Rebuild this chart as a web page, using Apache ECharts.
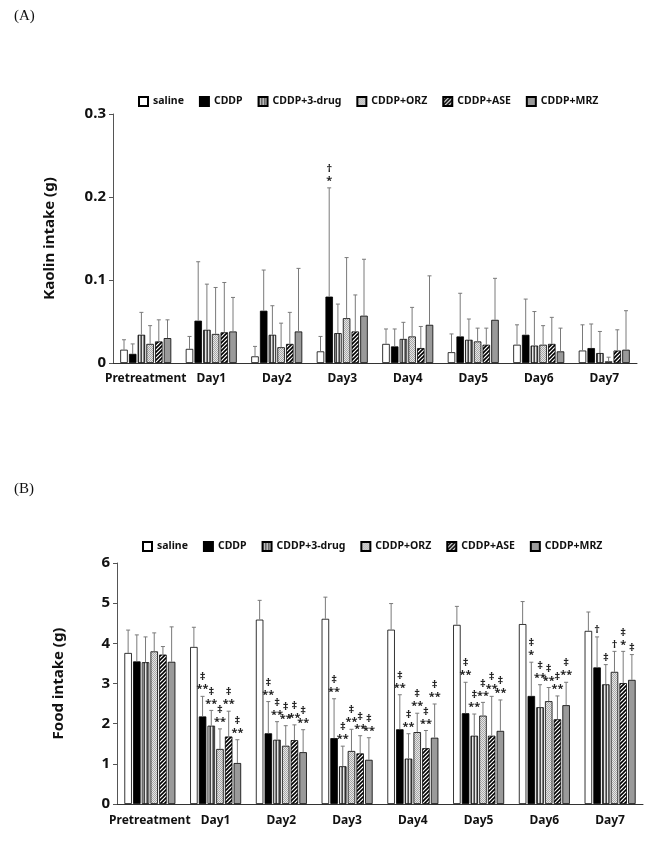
<!DOCTYPE html>
<html>
<head>
<meta charset="utf-8">
<script src="https://cdn.jsdelivr.net/npm/echarts@6.0.0/dist/echarts.min.js"></script>
<style>
html,body{margin:0;padding:0;background:#fff;}
#chart{width:661px;height:850px;}
</style>
</head>
<body>
<div id="chart"></div>
<script>
// ---------- data ----------
const categories = ['Pretreatment','Day1','Day2','Day3','Day4','Day5','Day6','Day7'];
const seriesNames = ['saline','CDDP','CDDP+3-drug','CDDP+ORZ','CDDP+ASE','CDDP+MRZ'];
const yTicksA = [0, 0.1, 0.2, 0.3];
const yTicksB = [0, 1, 2, 3, 4, 5, 6];

// (A) Kaolin intake (g): means
const kaolinSaline = [0.016, 0.017, 0.008, 0.014, 0.023, 0.013, 0.022, 0.015];
const kaolinCDDP   = [0.011, 0.051, 0.063, 0.080, 0.020, 0.032, 0.034, 0.018];
const kaolin3drug  = [0.034, 0.040, 0.034, 0.036, 0.029, 0.028, 0.021, 0.012];
const kaolinORZ    = [0.023, 0.035, 0.019, 0.054, 0.032, 0.026, 0.022, 0.002];
const kaolinASE    = [0.026, 0.037, 0.023, 0.038, 0.018, 0.022, 0.023, 0.015];
const kaolinMRZ    = [0.030, 0.038, 0.038, 0.057, 0.046, 0.052, 0.014, 0.016];
// (A) SD
const kaolinSalineSD = [0.012, 0.015, 0.012, 0.018, 0.018, 0.022, 0.024, 0.031];
const kaolinCDDPSD   = [0.012, 0.071, 0.049, 0.131, 0.021, 0.052, 0.043, 0.029];
const kaolin3drugSD  = [0.027, 0.055, 0.035, 0.035, 0.020, 0.025, 0.041, 0.026];
const kaolinORZSD    = [0.022, 0.056, 0.029, 0.073, 0.035, 0.016, 0.023, 0.005];
const kaolinASESD    = [0.026, 0.060, 0.038, 0.044, 0.026, 0.020, 0.032, 0.025];
const kaolinMRZSD    = [0.022, 0.041, 0.076, 0.068, 0.059, 0.050, 0.028, 0.047];
// (A) significance marks
const kaolinMarksCDDP = ['', '', '', '†\n*', '', '', '', ''];

// (B) Food intake (g): means
const foodSaline = [3.76, 3.91, 4.59, 4.61, 4.34, 4.46, 4.48, 4.31];
const foodCDDP   = [3.55, 2.18, 1.76, 1.64, 1.86, 2.26, 2.69, 3.40];
const food3drug  = [3.53, 1.95, 1.60, 0.94, 1.13, 1.70, 2.41, 2.98];
const foodORZ    = [3.80, 1.37, 1.45, 1.32, 1.79, 2.20, 2.56, 3.29];
const foodASE    = [3.72, 1.68, 1.59, 1.26, 1.39, 1.70, 2.11, 3.01];
const foodMRZ    = [3.54, 1.02, 1.29, 1.10, 1.65, 1.82, 2.46, 3.09];
// (B) SD
const foodSalineSD = [0.57, 0.49, 0.48, 0.54, 0.65, 0.46, 0.56, 0.47];
const foodCDDPSD   = [0.66, 0.50, 0.79, 0.98, 0.86, 0.77, 0.84, 0.76];
const food3drugSD  = [0.63, 0.38, 0.45, 0.50, 0.62, 0.54, 0.56, 0.49];
const foodORZSD    = [0.46, 0.50, 0.50, 0.54, 0.47, 0.33, 0.34, 0.51];
const foodASESD    = [0.20, 0.63, 0.38, 0.44, 0.44, 0.98, 0.58, 0.79];
const foodMRZSD    = [0.87, 0.58, 0.56, 0.55, 0.84, 0.77, 0.57, 0.63];
// (B) significance marks
const foodMarksSaline = ['', '', '', '', '', '', '', ''];
const foodMarksCDDP  = ['', '‡\n**', '‡\n**', '‡\n**', '‡\n**', '‡\n**', '‡\n*', '†'];
const foodMarks3drug = ['', '‡\n**', '‡\n**', '‡\n**', '‡\n**', '‡\n**', '‡\n**', '‡'];
const foodMarksORZ   = ['', '‡\n**', '‡\n**', '‡\n**', '‡\n**', '‡\n**', '‡\n**', '†'];
const foodMarksASE   = ['', '‡\n**', '‡\n**', '‡\n**', '‡\n**', '‡\n**', '‡\n**', '‡\n*'];
const foodMarksMRZ   = ['', '‡\n**', '‡\n**', '‡\n**', '‡\n**', '‡\n**', '‡\n**', '‡'];

// ---------- build ----------
const kaolinMeans = [kaolinSaline, kaolinCDDP, kaolin3drug, kaolinORZ, kaolinASE, kaolinMRZ];
const kaolinSDs = [kaolinSalineSD, kaolinCDDPSD, kaolin3drugSD, kaolinORZSD, kaolinASESD, kaolinMRZSD];
const noMarks = ['', '', '', '', '', '', '', ''];
const kaolinMarks = [noMarks, kaolinMarksCDDP, noMarks, noMarks, noMarks, noMarks];
const foodMeans = [foodSaline, foodCDDP, food3drug, foodORZ, foodASE, foodMRZ];
const foodSDs = [foodSalineSD, foodCDDPSD, food3drugSD, foodORZSD, foodASESD, foodMRZSD];
const foodMarks = [foodMarksSaline, foodMarksCDDP, foodMarks3drug, foodMarksORZ, foodMarksASE, foodMarksMRZ];

const FONT = '"Noto Sans", "DejaVu Sans", sans-serif';
const BAR_W = 7.5;
const BAR_GAP = 0.16;
const PITCH = BAR_W * (1 + BAR_GAP);

function makePattern(w, h, draw) {
  const c = document.createElement('canvas');
  c.width = w; c.height = h;
  const ctx = c.getContext('2d');
  draw(ctx);
  return { image: c, repeat: 'repeat' };
}
const fills = [
  '#ffffff',
  '#000000',
  makePattern(3, 1, ctx => {
    ctx.fillStyle = '#888'; ctx.fillRect(0, 0, 3, 1);
    ctx.fillStyle = '#444'; ctx.fillRect(0, 0, 1, 1);
    ctx.fillStyle = '#e6e6e6'; ctx.fillRect(1, 0, 1, 1);
  }),
  makePattern(2, 2, ctx => {
    ctx.fillStyle = '#e6e6e6'; ctx.fillRect(0, 0, 2, 2);
    ctx.fillStyle = '#a8a8a8'; ctx.fillRect(0, 0, 1, 1); ctx.fillRect(1, 1, 1, 1);
  }),
  makePattern(4, 4, ctx => {
    ctx.fillStyle = '#ffffff'; ctx.fillRect(0, 0, 4, 4);
    ctx.strokeStyle = '#000'; ctx.lineWidth = 1.6;
    ctx.beginPath();
    ctx.moveTo(-1, 5); ctx.lineTo(5, -1);
    ctx.moveTo(-1, 1); ctx.lineTo(1, -1);
    ctx.moveTo(3, 5); ctx.lineTo(5, 3);
    ctx.stroke();
  }),
  '#9a9a9a'
];

function barSeries(means, axisIdx) {
  return means.map((arr, si) => ({
    name: seriesNames[si],
    type: 'bar',
    xAxisIndex: axisIdx, yAxisIndex: axisIdx,
    data: arr,
    barWidth: BAR_W,
    barGap: (BAR_GAP * 100) + '%',
    itemStyle: { color: fills[si], borderColor: '#000', borderWidth: 0.8 },
    z: 2
  }));
}

function errSeries(means, sds, axisIdx) {
  const data = [];
  means.forEach((arr, si) => arr.forEach((m, ci) => data.push([ci, si, m, sds[si][ci]])));
  return {
    type: 'custom',
    xAxisIndex: axisIdx, yAxisIndex: axisIdx,
    data: data,
    encode: { x: 0, y: 2 },
    silent: true,
    z: 3,
    renderItem: function (params, api) {
      const ci = api.value(0), si = api.value(1), m = api.value(2), sd = api.value(3);
      const b = api.coord([ci, m]);
      const t = api.coord([ci, m + sd]);
      const x = b[0] + (si - 2.5) * PITCH;
      const st = { stroke: '#7a7a7a', lineWidth: 1 };
      return {
        type: 'group',
        children: [
          { type: 'line', shape: { x1: x, y1: b[1], x2: x, y2: t[1] }, style: st },
          { type: 'line', shape: { x1: x - 2, y1: t[1], x2: x + 2, y2: t[1] }, style: st }
        ]
      };
    }
  };
}

function markSeries(means, sds, marks, axisIdx) {
  const data = [], texts = [];
  means.forEach((arr, si) => arr.forEach((m, ci) => {
    if (marks[si][ci]) { data.push([ci, si, m + sds[si][ci]]); texts.push(marks[si][ci]); }
  }));
  return {
    type: 'custom',
    xAxisIndex: axisIdx, yAxisIndex: axisIdx,
    data: data,
    encode: { x: 0, y: 2 },
    silent: true,
    z: 4,
    renderItem: function (params, api) {
      const ci = api.value(0), si = api.value(1), top = api.value(2);
      const p = api.coord([ci, top]);
      const x = p[0] + (si - 2.5) * PITCH;
      return {
        type: 'text',
        x: x, y: p[1] - 1,
        style: {
          text: texts[params.dataIndex],
          fill: '#222',
          font: 'bold 11px ' + FONT,
          align: 'center',
          verticalAlign: 'bottom',
          lineHeight: 12
        }
      };
    }
  };
}

function yAxis(gi, max, interval, name, nameGap, fmt) {
  return {
    gridIndex: gi, type: 'value', min: 0, max: max, interval: interval,
    name: name, nameLocation: 'middle', nameRotate: 90, nameGap: nameGap,
    nameTextStyle: { fontFamily: FONT, fontWeight: 'bold', fontSize: 15, color: '#111' },
    axisLine: { show: true, lineStyle: { color: '#555', width: 1 } },
    axisTick: { show: true, length: 4, lineStyle: { color: '#555' } },
    splitLine: { show: false },
    axisLabel: { fontFamily: FONT, fontWeight: 'bold', fontSize: 15, color: '#111', margin: 7, formatter: fmt }
  };
}
function xAxis(gi, margin) {
  return {
    gridIndex: gi, type: 'category', data: categories,
    axisLine: { show: true, lineStyle: { color: '#333', width: 1 } },
    axisTick: { show: false },
    axisLabel: { fontFamily: FONT, fontWeight: 'bold', fontSize: 12, color: '#111', margin: margin, interval: 0 }
  };
}
function legend(top, left) {
  return {
    data: seriesNames, top: top, left: left,
    icon: 'rect', itemWidth: 9, itemHeight: 9, itemGap: 15,
    textStyle: { fontFamily: FONT, fontWeight: 'bold', fontSize: 10.5, color: '#111' },
    selectedMode: false
  };
}

const option = {
  animation: false,
  backgroundColor: '#fff',
  title: [
    { text: '(A)', left: 14, top: 9, padding: 0, textStyle: { fontFamily: '"Liberation Serif", serif', fontWeight: 'normal', fontSize: 15, color: '#111' } },
    { text: '(B)', left: 14, top: 482, padding: 0, textStyle: { fontFamily: '"Liberation Serif", serif', fontWeight: 'normal', fontSize: 15, color: '#111' } }
  ],
  legend: [legend(91, 133), legend(536, 137)],
  grid: [
    { left: 113, right: 24, top: 114, height: 249 },
    { left: 117, right: 18, top: 563, height: 241 }
  ],
  xAxis: [xAxis(0, 10), xAxis(1, 11)],
  yAxis: [
    yAxis(0, yTicksA[yTicksA.length - 1], yTicksA[1] - yTicksA[0], 'Kaolin intake (g)', 56, v => v === 0 ? '0' : v.toFixed(1)),
    yAxis(1, yTicksB[yTicksB.length - 1], yTicksB[1] - yTicksB[0], 'Food intake (g)', 51, v => String(v))
  ],
  series: [].concat(
    barSeries(kaolinMeans, 0),
    [errSeries(kaolinMeans, kaolinSDs, 0), markSeries(kaolinMeans, kaolinSDs, kaolinMarks, 0)],
    barSeries(foodMeans, 1),
    [errSeries(foodMeans, foodSDs, 1), markSeries(foodMeans, foodSDs, foodMarks, 1)]
  )
};

const chart = echarts.init(document.getElementById('chart'), null, { renderer: 'canvas' });
chart.setOption(option);
</script>
</body>
</html>
